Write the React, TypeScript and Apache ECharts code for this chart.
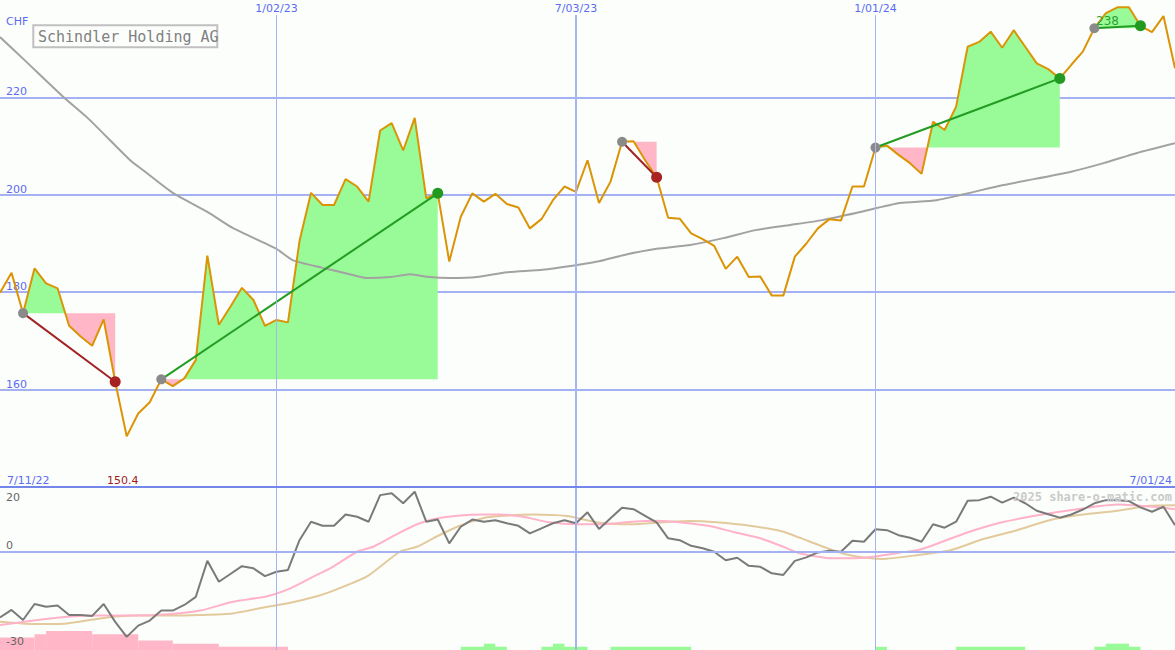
import React, { useEffect, useRef } from "react";
import * as echarts from "echarts";

// ---------- data ----------
const startDateUTC = Date.UTC(2022, 6, 18);
const weekCount = 103;
const weekDates: string[] = Array.from({ length: weekCount }, (_, i) => {
  const d = new Date(startDateUTC + i * 7 * 86400000);
  return `${d.getUTCMonth() + 1}/${String(d.getUTCDate()).padStart(2, "0")}/${String(d.getUTCFullYear() % 100).padStart(2, "0")}`;
});
const dateTickIndex = [24, 50, 76];
const dateTickWidth = [1, 2, 1];
const rangeLabels = ["7/11/22", "7/01/24"];
const priceTicks = [160, 180, 200, 220];
const oscTickLabels = ["20", "0", "-30"];

const priceClose = [
  179.9, 184.0, 175.7, 184.9, 181.8, 180.8, 173.1, 170.9, 169.0, 174.4,
  161.6, 150.4, 155.1, 157.4, 162.1, 160.7, 162.3, 166.1, 187.5, 173.3,
  177.0, 180.9, 178.4, 173.1, 174.3, 173.8, 190.5, 200.4, 197.9, 197.9,
  203.2, 201.7, 198.6, 213.2, 214.7, 209.1, 215.8, 199.3, 200.3, 186.3,
  195.5, 200.3, 198.6, 200.2, 198.1, 197.4, 193.1, 195.0, 198.9, 201.7,
  200.6, 207.1, 198.3, 202.7, 210.9, 211.0, 207.1, 203.6, 195.3, 195.1,
  192.1, 190.9, 189.5, 184.8, 187.3, 183.1, 183.2, 179.3, 179.3, 187.3,
  190.0, 193.1, 195.0, 194.7, 201.7, 201.7, 209.7, 210.1, 208.2, 206.5,
  204.3, 215.0, 213.3, 218.1, 230.4, 231.4, 233.5, 230.2, 233.8, 230.4,
  227.0, 225.8, 223.9, 226.7, 229.4, 234.2, 237.3, 238.5, 238.5, 234.7,
  233.4, 236.7, 226.0,
];

const longAverage: [number, number][] = [
  [0, 232.4], [2.2, 227.5], [5.5, 220.1], [7.6, 215.8], [11.3, 207.1], [12.4, 205.1],
  [15.0, 200.4], [18.0, 196.5], [20.2, 193.2], [24.0, 188.9], [25.4, 186.6], [28.0, 185.0],
  [30.0, 183.9], [31.9, 182.9], [33.9, 183.1], [35.6, 183.7], [37.3, 183.1], [39.1, 182.9],
  [41.4, 183.1], [44.0, 184.1], [47.1, 184.6], [50.1, 185.6], [52.1, 186.4], [54.1, 187.6],
  [57.0, 188.9], [59.9, 189.7], [62.8, 191.1], [65.7, 192.8], [68.6, 193.8], [71.4, 194.8],
  [74.4, 196.3], [78.1, 198.3], [81.3, 198.9], [87.1, 202.0], [92.9, 204.7], [95.8, 206.5],
  [98.7, 208.6], [102, 210.6],
];

const trendStart = [2, 14, 54, 76, 95];
const trendEnd = [10, 38, 57, 92, 99];
const minLabel = "150.4";
const maxLabel = "238";

const oscillator = [
  -21.0, -18.6, -21.8, -16.7, -17.6, -17.2, -20.2, -20.2, -20.5, -16.7,
  -22.4, -27.2, -23.6, -22.0, -18.8, -18.8, -17.0, -14.4, -2.9, -9.6,
  -7.1, -4.6, -5.3, -7.8, -6.4, -5.8, 3.7, 9.6, 8.3, 8.3,
  11.9, 11.2, 9.6, 18.1, 18.7, 15.5, 19.2, 9.6, 10.3, 2.7,
  8.0, 10.3, 9.6, 10.1, 9.1, 8.3, 5.9, 7.5, 9.1, 10.1,
  9.1, 12.6, 7.3, 10.7, 14.1, 13.6, 11.5, 9.4, 4.3, 3.7,
  1.9, 1.1, 0.0, -2.7, -1.9, -4.5, -4.8, -6.9, -7.4, -2.9,
  -1.8, -0.2, 0.3, 0.0, 3.5, 3.2, 7.2, 6.9, 5.3, 4.5,
  3.2, 8.8, 7.7, 9.6, 16.3, 16.5, 17.6, 15.7, 17.3, 15.5,
  13.1, 12.0, 10.9, 11.9, 13.5, 15.5, 16.5, 16.5, 16.2, 14.2,
  12.8, 14.4, 8.5,
];

const oscFast: [number, number][] = [
  [0, -23.4], [2.9, -22.0], [5.8, -20.8], [8.7, -20.4], [11.5, -20.4], [14.5, -20.0],
  [17.4, -18.8], [20.2, -16.0], [23.2, -14.2], [25.2, -11.7], [27.5, -7.4], [28.9, -4.8],
  [31.0, 0.0], [32.4, 1.6], [34.7, 6.1], [36.2, 8.8], [37.6, 10.4], [39.7, 11.5],
  [41.9, 11.9], [43.4, 11.9], [45.4, 11.2], [47.7, 9.4], [50.1, 8.8], [52.1, 8.8],
  [54.9, 9.6], [57.0, 9.9], [59.3, 9.3], [61.6, 8.2], [63.6, 6.4], [66.0, 4.3],
  [68.0, 1.6], [69.4, -0.5], [72.3, -2.1], [75.3, -1.8], [78.1, -0.3], [79.6, 0.5],
  [81.0, 2.1], [83.9, 6.1], [86.8, 9.3], [89.7, 11.4], [92.6, 13.1], [95.5, 14.6],
  [97.0, 15.1], [98.4, 14.9], [100.1, 14.4], [102, 13.6],
];

const oscSlow: [number, number][] = [
  [0, -22.4], [2.9, -23.1], [5.8, -22.9], [8.7, -21.3], [11.5, -20.4], [14.5, -20.4],
  [17.4, -20.2], [20.2, -19.7], [23.2, -17.6], [25.2, -16.3], [27.5, -14.2], [28.9, -12.5],
  [31.9, -7.8], [34.7, 0.0], [36.2, 1.6], [37.6, 4.3], [39.7, 8.0], [41.9, 10.7],
  [43.4, 11.4], [46.3, 11.9], [49.2, 11.4], [52.1, 9.3], [54.9, 8.8], [57.0, 9.3],
  [59.9, 9.8], [62.2, 9.4], [65.1, 8.3], [68.0, 6.4], [69.4, 4.5], [72.3, 0.5],
  [73.8, -1.1], [76.6, -2.3], [79.6, -1.1], [82.5, 0.5], [85.3, 4.0], [88.3, 6.9],
  [91.1, 10.1], [94.0, 11.9], [97.0, 13.1], [99.8, 14.7], [102, 14.9],
];

// [fromWeek, toWeek, level]
const weakBars: [number, number, number][] = [
  [0, 3, 4], [3, 4, 5], [4, 8, 6], [8, 12, 5], [12, 15, 3], [15, 19, 2], [19, 25, 1],
];
const strongBars: [number, number, number][] = [
  [40, 44, 1], [42, 43, 2], [47, 51, 1], [48, 49, 2], [53, 60, 1],
  [76, 77, 1], [83, 89, 1], [95, 99, 1], [96, 98, 2],
];

// ---------- styles ----------
const BG = "#fcfefc";
const GRID = "#a4b1f2";
const BLUE_TEXT = "#5b6cf0";
const GREEN_FILL = "#98fb98";
const PINK_FILL = "#ffb6c6";
const PRICE = "#da9405";
const FONT = "DejaVu Sans";

const fillItem = (_params: any, api: any) => {
  const s = api.value(0);
  const e = api.value(1);
  const level = priceClose[s];
  const pts: [number, number][] = [];
  for (let i = s; i <= e; i++) {
    pts.push([i, priceClose[i]]);
    if (i < e) {
      const a = priceClose[i] - level;
      const b = priceClose[i + 1] - level;
      if ((a > 0 && b < 0) || (a < 0 && b > 0)) pts.push([i + a / (a - b), level]);
    }
  }
  const children: any[] = [];
  let run: [number, number][] = [pts[0]];
  let sign = 0;
  const flush = () => {
    if (run.length > 1 && sign !== 0) {
      const poly = [...run, [run[run.length - 1][0], level], [run[0][0], level]].map((p) => api.coord(p));
      children.push({ type: "polygon", shape: { points: poly }, style: { fill: sign > 0 ? GREEN_FILL : PINK_FILL } });
    }
  };
  for (let k = 1; k < pts.length; k++) {
    const mid = (pts[k - 1][1] + pts[k][1]) / 2 - level;
    const sg = mid > 0 ? 1 : mid < 0 ? -1 : 0;
    if (sg !== sign && run.length > 1) {
      flush();
      run = [pts[k - 1]];
    }
    sign = sg;
    run.push(pts[k]);
  }
  flush();
  return { type: "group", children };
};

const trendItem = (_params: any, api: any) => {
  const s = api.value(0);
  const e = api.value(1);
  const p0 = api.coord([s, priceClose[s]]);
  const p1 = api.coord([e, priceClose[e]]);
  const up = priceClose[e] >= priceClose[s];
  return {
    type: "group",
    children: [
      { type: "line", shape: { x1: p0[0], y1: p0[1], x2: p1[0], y2: p1[1] }, style: { stroke: up ? "#229c22" : "#a02424", lineWidth: 2 } },
      { type: "circle", shape: { cx: p0[0], cy: p0[1], r: 5 }, style: { fill: "#8a8a8a" } },
      { type: "circle", shape: { cx: p1[0], cy: p1[1], r: 5.5 }, style: { fill: up ? "#229a22" : "#a82222" } },
    ],
  };
};

const barItem = (color: string) => (_params: any, api: any) => {
  const a = api.coord([api.value(0), 0]);
  const b = api.coord([api.value(1), api.value(2)]);
  return { type: "rect", shape: { x: a[0], y: b[1], width: b[0] - a[0], height: a[1] - b[1] }, style: { fill: color } };
};

const txt = (x: number, y: number, text: string, fill: string, opts: any = {}) => ({
  type: "text",
  x,
  y,
  z: 100,
  style: { text, fill, font: `11px '${FONT}'`, textVerticalAlign: "middle", ...opts },
});

export default function App() {
  const ref = useRef<HTMLDivElement>(null);
  useEffect(() => {
    if (!ref.current) return;
    const chart = echarts.init(ref.current, undefined, { renderer: "svg" });
    const option: any = {
      animation: false,
      backgroundColor: BG,
      grid: [
        { left: 0, right: 0, top: 0, height: 487, containLabel: false, outerBoundsMode: "none" },
        { left: 0, right: 0, top: 487, height: 163, containLabel: false, outerBoundsMode: "none" },
      ],
      xAxis: [
        { gridIndex: 0, type: "value", min: 0, max: 102, show: false },
        {
          gridIndex: 0,
          type: "category",
          data: weekDates,
          boundaryGap: false,
          position: "top",
          axisLine: { show: false },
          axisTick: { show: false },
          splitLine: { show: false },
          axisLabel: {
            inside: true,
            margin: 3,
            interval: (idx: number) => dateTickIndex.includes(idx),
            color: BLUE_TEXT,
            fontSize: 11,
            fontFamily: FONT,
          },
        },
        { gridIndex: 1, type: "value", min: 0, max: 102, show: false },
      ],
      yAxis: [
        {
          gridIndex: 0,
          type: "value",
          min: 140,
          max: 240,
          interval: 20,
          axisLine: { show: false },
          axisTick: { show: false },
          axisLabel: {
            inside: true,
            margin: 6,
            verticalAlign: "bottom",
            color: BLUE_TEXT,
            fontSize: 11,
            fontFamily: FONT,
            formatter: (v: number) => (priceTicks.includes(v) ? String(v) : ""),
          },
          splitLine: { show: true, showMinLine: false, showMaxLine: false, lineStyle: { color: GRID, width: 2 } },
        },
        { gridIndex: 1, type: "value", min: -31.4, max: 20.7, show: false, splitLine: { show: false } },
        { gridIndex: 1, type: "value", min: 0, max: 51.75, show: false, splitLine: { show: false } },
      ],
      graphic: [
        { type: "line", z: 90, shape: { x1: 0, y1: 487, x2: 1175, y2: 487 }, style: { stroke: "#7486ea", lineWidth: 2 } },
        { type: "rect", z: 99, shape: { x: 33.3, y: 25.3, width: 184, height: 22 }, style: { fill: BG, stroke: "#c0c0c0", lineWidth: 2 } },
        txt(38, 37, "Schindler Holding AG", "#808080", { font: "15px 'DejaVu Sans Mono'" }),
        txt(6, 21, "CHF", BLUE_TEXT),
        txt(7, 480, rangeLabels[0], BLUE_TEXT),
        txt(107, 480, minLabel, "#a01c1c"),
        txt(1172, 480, rangeLabels[1], BLUE_TEXT, { textAlign: "right" }),
        txt(1172, 497, "2025 share-o-matic.com", "#cacaca", { textAlign: "right", font: "bold 12px 'DejaVu Sans Mono'" }),
        txt(6, 497, oscTickLabels[0], "#666666"),
        txt(6, 545, oscTickLabels[1], "#666666"),
        txt(6, 641, oscTickLabels[2], "#666666"),
        txt(1096, 21, maxLabel, "#2e9e2e", { font: `12px '${FONT}'` }),
      ],
      series: [
        {
          type: "line",
          xAxisIndex: 0,
          yAxisIndex: 0,
          data: [],
          z: 0,
          silent: true,
          markLine: {
            silent: true,
            symbol: "none",
            label: { show: false },
            data: dateTickIndex.map((x, k) => [
              { coord: [x, 236.9], lineStyle: { color: "#a8b4f0", width: dateTickWidth[k], type: "solid" } },
              { coord: [x, 140] },
            ]),
          },
        },
        {
          type: "custom",
          xAxisIndex: 0,
          yAxisIndex: 0,
          z: 1,
          silent: true,
          renderItem: fillItem,
          data: trendStart.map((s, k) => [s, trendEnd[k]]),
        },
        {
          type: "line",
          xAxisIndex: 0,
          yAxisIndex: 0,
          z: 2,
          data: longAverage,
          showSymbol: false,
          smooth: 0.2,
          lineStyle: { color: "#a2a2a2", width: 2 },
        },
        {
          type: "line",
          xAxisIndex: 0,
          yAxisIndex: 0,
          z: 3,
          data: priceClose.map((v, i) => [i, v]),
          showSymbol: false,
          lineStyle: { color: PRICE, width: 2 },
        },
        {
          type: "custom",
          xAxisIndex: 0,
          yAxisIndex: 0,
          z: 4,
          silent: true,
          renderItem: trendItem,
          data: trendStart.map((s, k) => [s, trendEnd[k]]),
        },
        // lower pane
        {
          type: "line",
          xAxisIndex: 2,
          yAxisIndex: 1,
          data: [],
          z: 0,
          silent: true,
          markLine: {
            silent: true,
            symbol: "none",
            label: { show: false },
            data: [
              ...dateTickIndex.map((x, k) => [
                { coord: [x, 20.7], lineStyle: { color: "#a8b4f0", width: dateTickWidth[k], type: "solid" } },
                { coord: [x, -31.4] },
              ]),
              [
                { coord: [0, 0], lineStyle: { color: GRID, width: 2, type: "solid" } },
                { coord: [102, 0] },
              ],
            ],
          },
        },
        {
          type: "custom",
          xAxisIndex: 2,
          yAxisIndex: 2,
          z: 1,
          silent: true,
          renderItem: barItem(PINK_FILL),
          data: weakBars,
        },
        {
          type: "custom",
          xAxisIndex: 2,
          yAxisIndex: 2,
          z: 1,
          silent: true,
          renderItem: barItem(GREEN_FILL),
          data: strongBars,
        },
        {
          type: "line",
          xAxisIndex: 2,
          yAxisIndex: 1,
          z: 2,
          data: oscSlow,
          showSymbol: false,
          smooth: 0.2,
          lineStyle: { color: "#e3ca9c", width: 2 },
        },
        {
          type: "line",
          xAxisIndex: 2,
          yAxisIndex: 1,
          z: 2,
          data: oscFast,
          showSymbol: false,
          smooth: 0.2,
          lineStyle: { color: "#ffb2c8", width: 2 },
        },
        {
          type: "line",
          xAxisIndex: 2,
          yAxisIndex: 1,
          z: 3,
          data: oscillator.map((v, i) => [i, v]),
          showSymbol: false,
          lineStyle: { color: "#7a7a7a", width: 2 },
        },
      ],
    };
    chart.setOption(option);
    return () => chart.dispose();
  }, []);
  return (
    <div
      ref={ref}
      style={{ position: "absolute", left: 0, top: 0, width: 1175, height: 650 }}
    />
  );
}
